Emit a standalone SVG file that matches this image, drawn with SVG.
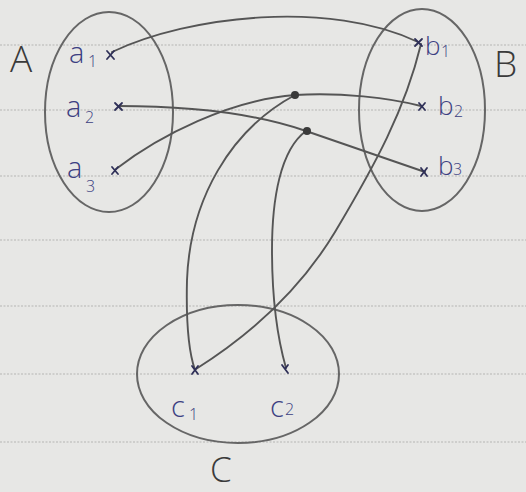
<svg xmlns="http://www.w3.org/2000/svg" width="526" height="492" viewBox="0 0 526 492">
<style>
.paper{fill:#e7e7e5}
.rule{stroke:#c6c6c4;stroke-width:1.4;stroke-dasharray:2 1.5;fill:none}
.set{fill:none;stroke:#666;stroke-width:2}
.big{font-family:"Open Sans","Liberation Sans",sans-serif;font-weight:300;font-size:37px;fill:#3a3a3a}
.lbl{font-family:"Open Sans","Liberation Sans",sans-serif;font-weight:300;font-size:29px;fill:#3d3f82}
.lb{font-size:26px}
.sub{font-size:16px}
.mark{stroke:#2f3058;stroke-width:1.8;fill:none;stroke-linecap:round}
.edge{fill:none;stroke:#555;stroke-width:1.9;stroke-linecap:round}
.dot{fill:#3a3a3a}
</style>
<rect class="paper" x="0" y="0" width="526" height="492"/>
<g id="ruling">
<line class="rule" x1="0" y1="45" x2="526" y2="45"/>
<line class="rule" x1="0" y1="110" x2="526" y2="110"/>
<line class="rule" x1="0" y1="176" x2="526" y2="176"/>
<line class="rule" x1="0" y1="240" x2="526" y2="240"/>
<line class="rule" x1="0" y1="306" x2="526" y2="306"/>
<line class="rule" x1="0" y1="374" x2="526" y2="374"/>
<line class="rule" x1="0" y1="442" x2="526" y2="442"/>
</g>
<g id="setA">
<ellipse class="set" cx="109" cy="112" rx="64" ry="100"/>
<text class="big" x="10" y="72">A</text>
</g>
<g id="setB">
<ellipse class="set" cx="422" cy="110" rx="63" ry="101"/>
<text class="big" x="494" y="77">B</text>
</g>
<g id="setC">
<ellipse class="set" cx="238" cy="374" rx="101" ry="69"/>
<text class="big" x="210" y="482" style="font-size:35px">C</text>
</g>
<g id="connectors">
<path class="edge" d="M112,52 C190,15 330,0 418,42"/>
<path class="edge" d="M118,106 C200,106 260,115 306,131 S390,160 425,172"/>
<path class="edge" d="M116,169 C160,135 230,100 295,95 C340,92 390,98 421,106"/>
<path class="edge" d="M295,95 C230,130 190,200 187,280 C186,320 188,350 195,370"/>
<path class="edge" d="M306,131 C280,150 272,200 272,250 C272,300 278,340 286,368"/>
<path class="edge" d="M196,369 C250,335 300,290 335,232 C375,165 405,110 421,44"/>
<circle class="dot" cx="295" cy="95" r="4"/>
<circle class="dot" cx="307" cy="131" r="4"/>
</g>
<g id="a1">
<path class="mark" d="M107,51 L114,59 M114,51 L107,59"/>
<text class="lbl" x="69" y="63">a<tspan class="sub" x="88" y="67">1</tspan></text>
</g>
<g id="a2">
<path class="mark" d="M115,103 L122,110 M122,103 L115,110"/>
<text class="lbl" x="66" y="117">a<tspan class="sub" x="85" y="123">2</tspan></text>
</g>
<g id="a3">
<path class="mark" d="M112,167 L118,174 M118,167 L112,174"/>
<text class="lbl" x="67" y="178">a<tspan class="sub" x="86" y="192">3</tspan></text>
</g>
<g id="b1">
<path class="mark" d="M415,39 L422,46 M422,39 L415,46"/>
<text class="lbl lb" x="425" y="55">b<tspan class="sub" x="441" y="57">1</tspan></text>
</g>
<g id="b2">
<path class="mark" d="M419,103 L425,110 M425,103 L419,110"/>
<text class="lbl lb" x="438" y="115">b<tspan class="sub" x="454" y="117">2</tspan></text>
</g>
<g id="b3">
<path class="mark" d="M421,168 L427,176 M427,168 L421,176"/>
<text class="lbl lb" x="438" y="175">b<tspan class="sub" x="453" y="175">3</tspan></text>
</g>
<g id="c1">
<path class="mark" d="M192,366 L198,374 M198,366 L192,374"/>
<text class="lbl" x="171" y="417">c<tspan class="sub" x="189" y="420">1</tspan></text>
</g>
<g id="c2">
<path class="mark" d="M282,365 L288,373 M288,365 L285,369"/>
<text class="lbl" x="270" y="417">c<tspan class="sub" x="285" y="415">2</tspan></text>
</g>
</svg>
